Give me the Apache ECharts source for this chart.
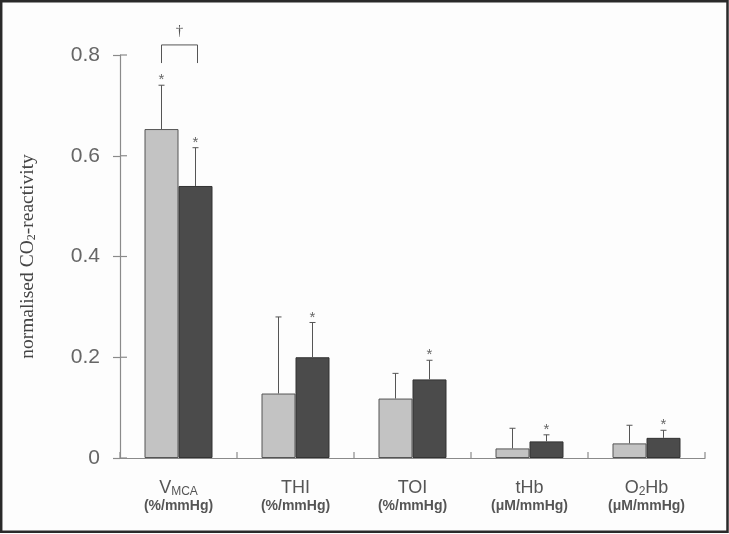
<!DOCTYPE html>
<html><head><meta charset="utf-8">
<script src="https://cdn.jsdelivr.net/npm/echarts@6/dist/echarts.min.js"></script>
<style>html,body{margin:0;padding:0;background:#fff}#c{width:729px;height:534px}</style>
</head><body><div id="c"></div>
<script>
// ---- data ----
const categories = ['VMCA', 'THI', 'TOI', 'tHb', 'O2Hb'];
const units = ['(%/mmHg)', '(%/mmHg)', '(%/mmHg)', '(\u03bcM/mmHg)', '(\u03bcM/mmHg)'];
const lightValues = [0.653, 0.128, 0.118, 0.019, 0.029];
const lightErrTop = [0.740, 0.280, 0.168, 0.059, 0.065];
const darkValues = [0.540, 0.200, 0.156, 0.033, 0.040];
const darkErrTop = [0.616, 0.269, 0.194, 0.046, 0.055];
const lightStar = [1, 0, 0, 0, 0];
const darkStar = [1, 1, 1, 1, 1];
const yTicks = [0, 0.2, 0.4, 0.6, 0.8];
const bracketData = [[0, 0.820, 0.784, 0.848]]; // category, bracket level, end level, dagger level
const bracketMark = '\u2020';

// ---- styles ----
const BAR_W = 34;
const axisColor = '#8a8a8a';
const textColor = '#555';

const labelMarkup = {
  'VMCA': '{m|V}{sub|MCA}',
  'O2Hb': '{m|O}{sub|2}{m|Hb}'
};

function errSeries(vals, tops, stars, side) {
  return {
    type: 'custom',
    z: 10,
    renderItem: function (params, api) {
      const i = api.value(0);
      const base = api.coord([i, api.value(1)]);
      const top = api.coord([i, api.value(2)]);
      const x = base[0] + side * BAR_W / 2;
      const st = { stroke: '#555', lineWidth: 1 };
      const children = [
        { type: 'line', shape: { x1: x, y1: base[1], x2: x, y2: top[1] }, style: st },
        { type: 'line', shape: { x1: x - 3, y1: top[1], x2: x + 3, y2: top[1] }, style: st }
      ];
      if (api.value(3)) {
        children.push({ type: 'text', style: { text: '*', x: x, y: top[1] - 5, align: 'center', verticalAlign: 'middle', font: '15px "Liberation Sans", Arial', fill: '#666' } });
      }
      return { type: 'group', children: children };
    },
    data: vals.map((v, i) => [i, v, tops[i], stars[i]])
  };
}

// inner halves of the crossing axis ticks (the outer halves are the axes' own ticks)
const tickStyle = { stroke: axisColor, lineWidth: 1.2 };
const yInnerTicks = {
  type: 'custom', z: 5, silent: true,
  renderItem: function (params, api) {
    const p = api.coord([0, api.value(0)]);
    const x0 = p[0] - api.size([1, 0])[0] / 2;
    return { type: 'line', shape: { x1: x0, y1: p[1], x2: x0 + 7, y2: p[1] }, style: tickStyle };
  },
  data: yTicks.map(v => [v])
};
const xInnerTicks = {
  type: 'custom', z: 5, silent: true,
  renderItem: function (params, api) {
    const b = api.value(0);
    const p = api.coord([0, 0]);
    const bw = api.size([1, 0])[0];
    const x = p[0] + (b - 0.5) * bw;
    return { type: 'line', shape: { x1: x, y1: p[1], x2: x, y2: p[1] - 6 }, style: tickStyle };
  },
  data: categories.concat(['']).map((c, i) => [i])
};

const chart = echarts.init(document.getElementById('c'));
chart.setOption({
  backgroundColor: '#fdfdfd',
  animation: false,
  grid: { left: 120, right: 24, top: 55, bottom: 76 },
  xAxis: {
    type: 'category',
    data: categories,
    axisLine: { lineStyle: { color: axisColor, width: 1.2 } },
    axisTick: { length: 6, lineStyle: { color: axisColor, width: 1.2 } },
    axisLabel: {
      interval: 0,
      margin: 20,
      color: textColor,
      formatter: function (v, idx) {
        const main = labelMarkup[v] || ('{m|' + v + '}');
        return main + '\n{u|' + units[idx] + '}';
      },
      rich: {
        m: { fontSize: 18, fontFamily: '"Liberation Sans", Arial', color: textColor, lineHeight: 20 },
        sub: { fontSize: 12, fontFamily: '"Liberation Sans", Arial', color: textColor, lineHeight: 20, verticalAlign: 'bottom', padding: [6, 0, 0, 0] },
        u: { fontSize: 14, fontWeight: 'bold', fontFamily: '"Liberation Sans", Arial', color: textColor, lineHeight: 17 }
      }
    }
  },
  yAxis: {
    type: 'value',
    min: 0, max: 0.8, interval: 0.2,
    splitLine: { show: false },
    axisLine: { show: true, lineStyle: { color: axisColor, width: 1.2 } },
    axisTick: { show: true, length: 7, lineStyle: { color: axisColor, width: 1.2 } },
    axisLabel: {
      margin: 20, fontSize: 21, color: '#666', fontFamily: '"Liberation Sans", Arial',
      formatter: v => { const t = yTicks.find(x => Math.abs(x - v) < 1e-9); return t === 0 ? '0' : t.toFixed(1); }
    },
    name: '{a|normalised CO}{s|2}{a|-reactivity}',
    nameLocation: 'middle',
    nameGap: 82,
    nameRotate: 90,
    nameTextStyle: {
      rich: {
        a: { fontSize: 19.5, fontFamily: '"Liberation Serif", "Times New Roman", serif', color: '#444' },
        s: { fontSize: 12, fontFamily: '"Liberation Serif", "Times New Roman", serif', color: '#444', verticalAlign: 'bottom', padding: [9, 0, 0, 0] }
      }
    }
  },
  series: [
    { type: 'bar', data: lightValues, barWidth: BAR_W, barGap: '0%', itemStyle: { color: '#c3c3c3', borderColor: '#555', borderWidth: 1 } },
    { type: 'bar', data: darkValues, barWidth: BAR_W, barGap: '0%', itemStyle: { color: '#4b4b4b', borderColor: '#333', borderWidth: 1 } },
    errSeries(lightValues, lightErrTop, lightStar, -1),
    errSeries(darkValues, darkErrTop, darkStar, 1),
    yInnerTicks,
    xInnerTicks,
    {
      type: 'custom',
      z: 10,
      renderItem: function (params, api) {
        const i = api.value(0);
        const lvl = api.coord([i, api.value(1)]);
        const end = api.coord([i, api.value(2)]);
        const dag = api.coord([i, api.value(3)]);
        const x1 = lvl[0] - BAR_W / 2, x2 = lvl[0] + BAR_W / 2 + 2;
        const st = { stroke: '#555', lineWidth: 1, fill: null };
        return {
          type: 'group', children: [
            { type: 'polyline', shape: { points: [[x1, end[1]], [x1, lvl[1]], [x2, lvl[1]], [x2, end[1]]] }, style: st },
            { type: 'text', style: { text: bracketMark, x: (x1 + x2) / 2, y: dag[1], align: 'center', verticalAlign: 'middle', font: '15px "Liberation Serif", serif', fill: '#555' } }
          ]
        };
      },
      data: bracketData
    }
  ],
  graphic: [{
    type: 'rect', silent: true, z: 100,
    shape: { x: 1.2, y: 1.2, width: 726.3, height: 530.6 },
    style: { fill: null, stroke: '#2a2a2a', lineWidth: 2.5 }
  }]
});
</script>
</body></html>
